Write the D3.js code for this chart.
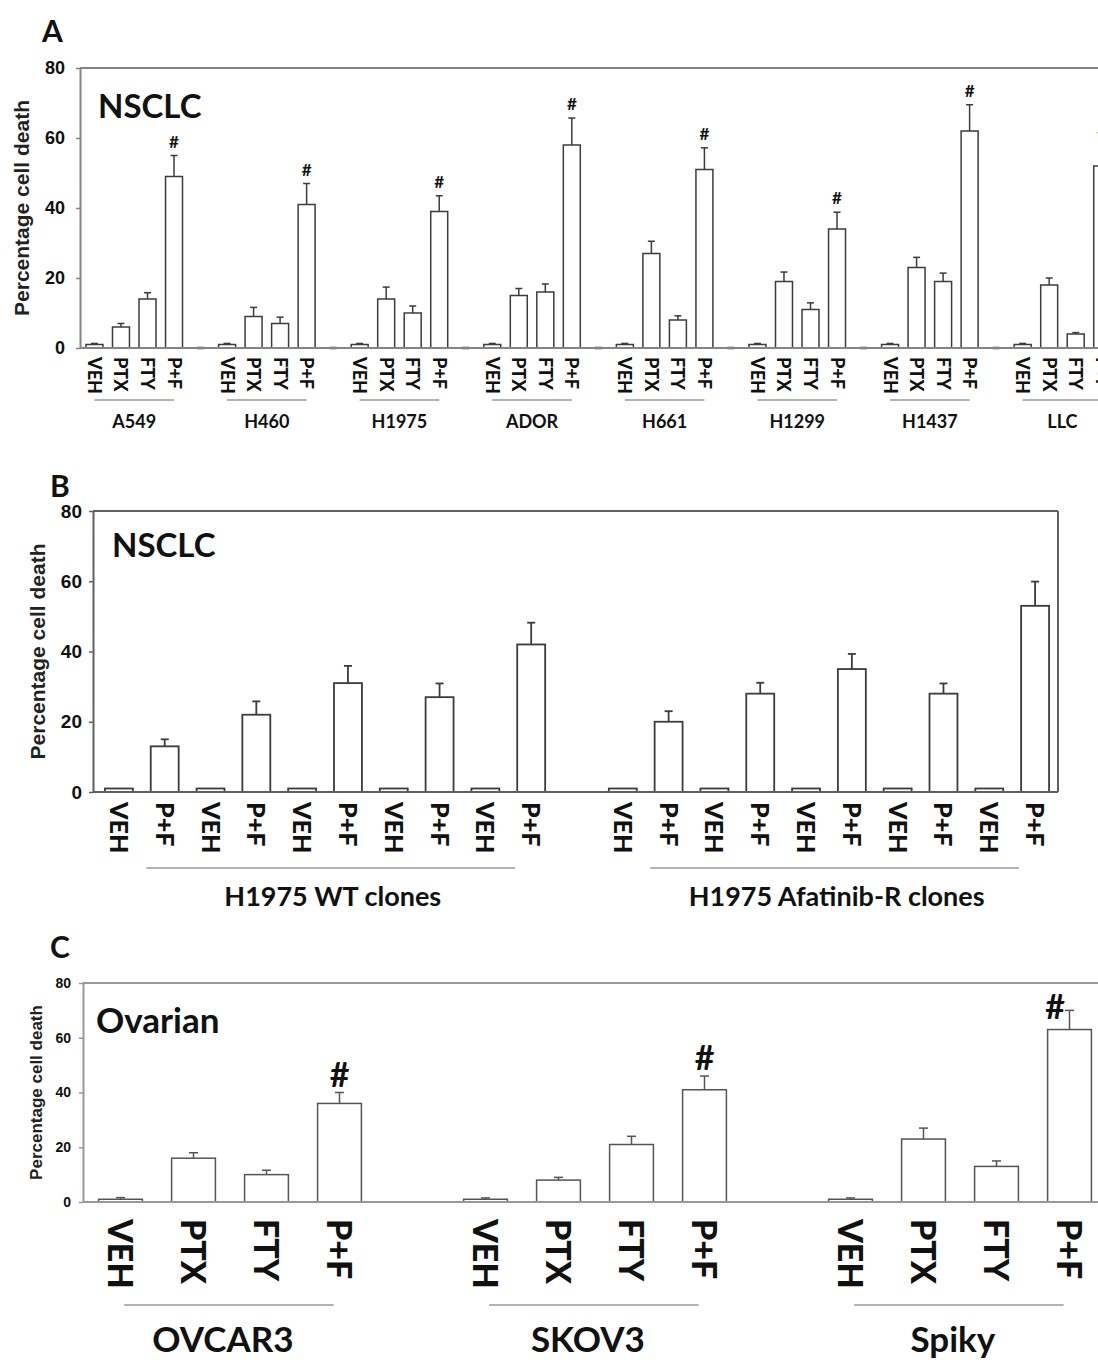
<!DOCTYPE html>
<html><head><meta charset="utf-8">
<script src="https://cdn.jsdelivr.net/npm/d3@7"></script>
<style>body{margin:0;background:#fff}svg{display:block}</style>
</head><body>
<svg id="fig" width="1098" height="1360"></svg>
<script>
// ---------- DATA ----------
const yTicks = [0, 20, 40, 60, 80];

// Panel A (NSCLC)
const treatmentsA = ["VEH", "PTX", "FTY", "P+F"];
const cellLinesA = ["A549", "H460", "H1975", "ADOR", "H661", "H1299", "H1437", "LLC"];
const meansA = [
  [1, 6, 14, 49], [1, 9, 7, 41], [1, 14, 10, 39], [1, 15, 16, 58],
  [1, 27, 8, 51], [1, 19, 11, 34], [1, 23, 19, 62], [1, 18, 4, 52]
];
const errorsA = [
  [0.3, 1, 1.8, 6], [0.3, 2.6, 1.8, 6], [0.3, 3.4, 2, 4.5], [0.3, 2, 2.3, 7.7],
  [0.3, 3.5, 1.2, 6.2], [0.3, 2.7, 1.9, 4.8], [0.3, 2.9, 2.4, 7.5], [0.3, 2, 0.4, 6]
];
const sigA = [false, false, false, true];

// Panel B (NSCLC clones)
const clonesB = ["H1975 WT clones", "H1975 Afatinib-R clones"];
const treatmentsB = ["VEH", "P+F", "VEH", "P+F", "VEH", "P+F", "VEH", "P+F", "VEH", "P+F"];
const meansWT = [1, 13, 1, 22, 1, 31, 1, 27, 1, 42];
const errorsWT = [0, 2, 0, 3.8, 0, 4.9, 0, 3.9, 0, 6.2];
const meansAR = [1, 20, 1, 28, 1, 35, 1, 28, 1, 53];
const errorsAR = [0, 3, 0, 3.1, 0, 4.3, 0, 2.9, 0, 6.9];

// Panel C (Ovarian)
const treatmentsC = ["VEH", "PTX", "FTY", "P+F"];
const cellLinesC = ["OVCAR3", "SKOV3", "Spiky"];
const meansC = [[1, 16, 10, 36], [1, 8, 21, 41], [1, 23, 13, 63]];
const errorsC = [[0.6, 2, 1.6, 4], [0.5, 1, 3, 5], [0.5, 4, 2, 7]];
const sigC = [false, false, false, true];

// ---------- DRAWING ----------
const svg = d3.select("#fig");
svg.append("rect").attr("width", 1098).attr("height", 1360).attr("fill", "#fff");
const CAL = "Lato, 'Open Sans', sans-serif";
const ARI = "'Liberation Sans', Arial, sans-serif";

function drawPanel(p) {
  const g = svg.append("g");
  const keys = [];
  p.groups.forEach((grp, gi) => {
    grp.labels.forEach((l, j) => keys.push(gi + "-" + j));
    if (p.spacer(gi)) keys.push(gi + "-s");
  });
  const x = d3.scaleBand().domain(keys).range(p.xRange)
    .paddingInner(p.pad).paddingOuter(p.pad / 2);
  const y = d3.scaleLinear().domain([0, 80]).range(p.yRange);
  const cx = k => x(k) + x.bandwidth() / 2;
  const step = x.step();

  // bars + error bars
  p.groups.forEach((grp, gi) => {
    grp.means.forEach((v, j) => {
      const k = gi + "-" + j;
      const e = grp.errors[j];
      g.append("rect").attr("x", x(k)).attr("y", y(v))
        .attr("width", x.bandwidth()).attr("height", y(0) - y(v))
        .attr("fill", "#fff").attr("stroke", p.barColor).attr("stroke-width", p.barStroke);
      if (e > 0) {
        g.append("line").attr("x1", cx(k)).attr("x2", cx(k)).attr("y1", y(v)).attr("y2", y(v + e))
          .attr("stroke", p.barColor).attr("stroke-width", p.barStroke);
        g.append("line").attr("x1", cx(k) - p.cap / 2).attr("x2", cx(k) + p.cap / 2)
          .attr("y1", y(v + e)).attr("y2", y(v + e))
          .attr("stroke", p.barColor).attr("stroke-width", p.barStroke);
      }
      if (grp.sig && grp.sig[j]) {
        const top = y(v + e);
        let by = top - p.hashGap, dx = 0;
        if (by - p.hashSize * 0.72 < y(80) + 2) { by = top + p.hashSize * 0.25; dx = -p.hashSize * 0.42; }
        g.append("text").attr("x", cx(k) + dx).attr("y", by).attr("text-anchor", "middle")
          .attr("font-family", CAL).attr("font-weight", 700).attr("font-size", p.hashSize)
          .attr("fill", "#111").text("#");
      }
      // x tick label (rotated)
      g.append("text").attr("transform", `translate(${cx(k)},${p.labelY}) rotate(90)`)
        .attr("dy", "0.36em").attr("text-anchor", "start")
        .attr("font-family", CAL).attr("font-weight", 900).attr("font-size", p.labelSize)
        .attr("fill", "#111").text(grp.labels[j]);
    });
    if (p.spacerDash && p.spacer(gi)) {
      const k = gi + "-s";
      g.append("line").attr("x1", cx(k) - 3.5).attr("x2", cx(k) + 3.5)
        .attr("y1", y(0)).attr("y2", y(0)).attr("stroke", "#333").attr("stroke-width", 2.5);
    }
    // group underline + name
    const n = grp.means.length;
    const c0 = cx(gi + "-0"), c1 = cx(gi + "-" + (n - 1));
    const l0 = c0 + p.lineStart * step, l1 = c1 - p.lineEnd * step;
    g.append("line").attr("x1", l0).attr("x2", l1).attr("y1", p.lineY).attr("y2", p.lineY)
      .attr("stroke", "#9a9a9a").attr("stroke-width", 1.3);
    g.append("text").attr("x", (l0 + l1) / 2 + (p.nameDx || 0)).attr("y", p.nameY)
      .attr("text-anchor", "middle").attr("font-family", CAL).attr("font-weight", 700)
      .attr("font-size", p.nameSize).attr("fill", "#111").text(grp.name);
  });

  // frame / axes
  const ax = p.axisX;
  const fr = g.append("g").attr("stroke", p.axisColor).attr("stroke-width", p.axisStroke).attr("fill", "none");
  fr.append("line").attr("x1", ax).attr("x2", p.frameRight).attr("y1", y(80)).attr("y2", y(80));
  fr.append("line").attr("x1", ax).attr("x2", p.frameRight).attr("y1", y(0)).attr("y2", y(0));
  if (p.rightBorder) fr.append("line").attr("x1", p.frameRight).attr("x2", p.frameRight).attr("y1", y(80)).attr("y2", y(0));

  const yAxis = d3.axisLeft(y).tickValues(yTicks).tickSize(p.tickSize).tickPadding(p.tickPad).tickSizeOuter(0);
  const ya = g.append("g").attr("transform", `translate(${ax},0)`).call(yAxis);
  ya.select(".domain").attr("stroke", p.axisColor).attr("stroke-width", p.axisStroke);
  ya.selectAll(".tick line").attr("stroke", p.axisColor).attr("stroke-width", 1.5);
  ya.selectAll(".tick text").attr("font-family", ARI).attr("font-weight", 700)
    .attr("font-size", p.tickFont).attr("fill", "#111");

  // y title
  g.append("text").attr("transform", `translate(${p.titleX},${(y(0) + y(80)) / 2}) rotate(-90)`)
    .attr("dy", "0.35em").attr("text-anchor", "middle").attr("font-family", ARI)
    .attr("font-weight", 700).attr("font-size", p.titleSize).attr("fill", "#222")
    .text("Percentage cell death");

  // in-plot title and panel letter
  g.append("text").attr("x", p.innerTitle.x).attr("y", p.innerTitle.y).attr("font-family", CAL)
    .attr("font-weight", 700).attr("font-size", p.innerTitle.size).attr("fill", "#111").text(p.innerTitle.text);
  g.append("text").attr("x", p.letter.x).attr("y", p.letter.y).attr("font-family", CAL)
    .attr("font-weight", 700).attr("font-size", p.letter.size).attr("fill", "#111").text(p.letter.text);
}

// Panel A
drawPanel({
  groups: cellLinesA.map((name, i) => ({ name, labels: treatmentsA, means: meansA[i], errors: errorsA[i], sig: sigA })),
  spacer: () => true, spacerDash: true,
  xRange: [81.2, 81.2 + 40 * 26.52], pad: 0.36, yRange: [348, 68],
  barColor: "#3c3c3c", barStroke: 1.5, cap: 7,
  hashSize: 17, hashGap: 8,
  labelY: 357, labelSize: 18,
  lineY: 400, lineStart: 0, lineEnd: 0, nameY: 428, nameSize: 18,
  axisX: 80, frameRight: 1098, rightBorder: false, axisColor: "#858585", axisStroke: 2,
  tickSize: 4, tickPad: 11, tickFont: 18,
  titleX: 22, titleSize: 21,
  innerTitle: { text: "NSCLC", x: 98, y: 118, size: 33 },
  letter: { text: "A", x: 42, y: 42, size: 30 }
});

// Panel B
drawPanel({
  groups: [
    { name: clonesB[0], labels: treatmentsB, means: meansWT, errors: errorsWT },
    { name: clonesB[1], labels: treatmentsB, means: meansAR, errors: errorsAR }
  ],
  spacer: gi => gi === 0, spacerDash: false,
  xRange: [96, 1058], pad: 0.39, yRange: [792, 511],
  barColor: "#3c3c3c", barStroke: 1.8, cap: 8,
  hashSize: 17, hashGap: 8,
  labelY: 802, labelSize: 25,
  lineY: 868, lineStart: 0.6, lineEnd: 0.35, nameY: 906, nameSize: 27, nameDx: 2,
  axisX: 93, frameRight: 1058, rightBorder: true, axisColor: "#606060", axisStroke: 2,
  tickSize: 4, tickPad: 7, tickFont: 19,
  titleX: 38, titleSize: 21,
  innerTitle: { text: "NSCLC", x: 112, y: 557, size: 33 },
  letter: { text: "B", x: 50, y: 497, size: 30 }
});

// Panel C
drawPanel({
  groups: cellLinesC.map((name, i) => ({ name, labels: treatmentsC, means: meansC[i], errors: errorsC[i], sig: sigC })),
  spacer: () => true, spacerDash: false,
  xRange: [84, 84 + 15 * 73], pad: 0.4, yRange: [1202, 983],
  barColor: "#555", barStroke: 1.5, cap: 9,
  hashSize: 34, hashGap: 6,
  labelY: 1219, labelSize: 34,
  lineY: 1305, lineStart: 0.05, lineEnd: 0.08, nameY: 1352, nameSize: 35, nameDx: -6,
  axisX: 83, frameRight: 1098, rightBorder: false, axisColor: "#999", axisStroke: 2,
  tickSize: 4, tickPad: 8, tickFont: 14,
  titleX: 36, titleSize: 17,
  innerTitle: { text: "Ovarian", x: 96, y: 1033, size: 35 },
  letter: { text: "C", x: 50, y: 958, size: 30 }
});
</script>
</body></html>
